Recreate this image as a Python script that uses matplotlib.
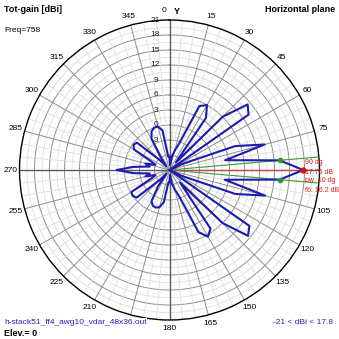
import numpy as np
import matplotlib.pyplot as plt
from matplotlib.transforms import offset_copy

plt.rcParams['font.family'] = ['Liberation Sans', 'DejaVu Sans']

# total gain (dBi) in the horizontal plane, one value every 5 degrees
angles_deg = list(range(0, 360, 5))
gain_dbi = [
    -6.4, -8.0, -6.3, -5.0, -3.4, 5.1, 6.0, 3.7, -7.0, 6.1,      # 0..45
    11.4, 10.3, -9.5, -6.0, 5.0, 10.7, 2.3, 13.1, 17.76, 13.1,   # 50..95
    2.2, 10.8, 5.0, -6.0, -9.5, 10.5, 11.5, 6.0, -5.7, 5.3,      # 100..145
    6.4, 4.7, -3.5, -5.0, -6.3, -8.0, -6.5, -6.5, -2.5, -1.3,    # 150..195
    -1.0, -1.1, -1.8, -5.0, -8.0, -6.0, -0.4, 0.0, -0.2, -5.0,   # 200..245
    -6.0, -4.0, -5.0, -1.8, 1.6, -1.8, -5.0, -4.0, -6.0, -5.0,   # 250..295
    -0.8, -0.2, -0.5, -6.0, -8.0, -6.0, -1.8, -0.5, 0.0, 0.0,    # 300..345
    -1.0, -6.4,                                                   # 350..355
]

peak_dir = 90
peak_gain = 17.76
bw_dirs = [85, 95]
bw_gain = [13.1, 13.1]

ring_labels = [21, 18, 15, 12, 9, 6, 3, 0, -3]
angle_labels = [a for a in range(15, 360, 15) if a != 90]

RMIN, RMAX = -9, 21

fig = plt.figure(figsize=(3.39, 3.39), dpi=100)
ax = fig.add_axes([19.5 / 339, 19 / 339, 300 / 339, 300 / 339], projection='polar')
ax.set_theta_zero_location('N')
ax.set_theta_direction(-1)
ax.set_ylim(RMIN, RMAX)
ax.set_xticks([])
ax.set_yticks([])
ax.grid(False)
ax.spines['polar'].set_color('black')
ax.spines['polar'].set_linewidth(1.0)

circ = np.linspace(0, 2 * np.pi, 361)
# grid rings: light ones every 1.5 dB, darker every 3 dB
for r in np.arange(-7.5, 21, 1.5):
    major = abs(r - round(r / 3) * 3) < 1e-6
    ax.plot(circ, np.full_like(circ, r), color='#8e8e8e' if major else '#dedede',
            lw=0.7 if major else 0.6, zorder=1)
# spokes: light every 5 degrees, darker every 15, axes darker still
for a in range(0, 360, 5):
    t = np.radians(a)
    if a % 90 == 0:
        ax.plot([t, t], [RMIN, RMAX], color='#5a5a5a', lw=1.0, zorder=1.2)
    elif a % 15 == 0:
        ax.plot([t, t], [RMIN, RMAX], color='#8e8e8e', lw=0.7, zorder=1.1)
    else:
        ax.plot([t, t], [-3, RMAX], color='#dedede', lw=0.6, zorder=1)

# ring values down the 0-degree spoke
lab_tr = offset_copy(ax.transData, fig=fig, x=-14, y=0, units='dots')
for v in ring_labels:
    ax.text(0, v, str(v), transform=lab_tr, ha='center', va='center',
            fontsize=6, color='#202020', zorder=2)

# azimuth labels round the outside
for a in angle_labels:
    ax.text(np.radians(a), RMIN + 159 / 5, str(a), ha='center', va='center',
            fontsize=6, color='black', zorder=1)
top_tr = offset_copy(ax.transData, fig=fig, x=-5, y=0, units='dots')
ax.text(0, RMIN + 159 / 5, '0', transform=top_tr, ha='center', va='center', fontsize=6)
y_tr = offset_copy(ax.transData, fig=fig, x=7, y=0, units='dots')
ax.text(0, RMIN + 159 / 5, 'Y', transform=y_tr, ha='center', va='center',
        fontsize=6.5, fontweight='bold')

# beamwidth and peak markers
for d in bw_dirs:
    ax.plot([np.radians(d)] * 2, [RMIN, RMAX], color='#3aa03a', lw=0.8, zorder=3)
ax.plot([np.radians(peak_dir)] * 2, [RMIN, peak_gain], color='#d84040', lw=0.8, zorder=3)

# the pattern itself
th = np.radians(angles_deg + [angles_deg[0]])
g = np.clip(gain_dbi + [gain_dbi[0]], RMIN, None)
ax.plot(th, g, color='#1c1cb0', lw=1.5, zorder=4)

ax.plot(np.radians(bw_dirs), bw_gain, 'o', color='#2a9a2a', ms=3, zorder=5)
ax.plot([np.radians(peak_dir)], [peak_gain], 'o', color='#e01010', ms=3.5, zorder=5)

# peak readout
red = '#e01818'
for i, s in enumerate(['%d dg' % peak_dir, '%.2f dB' % peak_gain, 'bw: 10 dg', 'fb: 16.2 dB']):
    fig.text(305 / 339, 1 - (163 + i * 9) / 339, s, ha='left', va='center',
             fontsize=5.0, color=red)

fig.text(4 / 339, 1 - 10 / 339, 'Tot-gain [dBi]', ha='left', va='center',
         fontsize=6.5, fontweight='bold')
fig.text(4 / 339, 1 - 30 / 339, 'Freq=758', ha='left', va='center', fontsize=6)
fig.text(335 / 339, 1 - 10 / 339, 'Horizontal plane', ha='right', va='center',
         fontsize=6.5, fontweight='bold')
fig.text(4 / 339, 1 - 322 / 339, 'h-stack51_ff4_awg10_vdar_48x36.out', ha='left',
         va='center', fontsize=6, color='#2020c0', zorder=5,
         bbox=dict(facecolor='white', edgecolor='none', pad=0.5))
fig.text(4 / 339, 1 - 333 / 339, 'Elev.= 0', ha='left', va='center',
         fontsize=6.5, fontweight='bold')
fig.text(333 / 339, 1 - 322 / 339, '-21 < dBi < 17.8', ha='right', va='center',
         fontsize=6, color='#2020c0')

fig.savefig('out.png', dpi=100)
